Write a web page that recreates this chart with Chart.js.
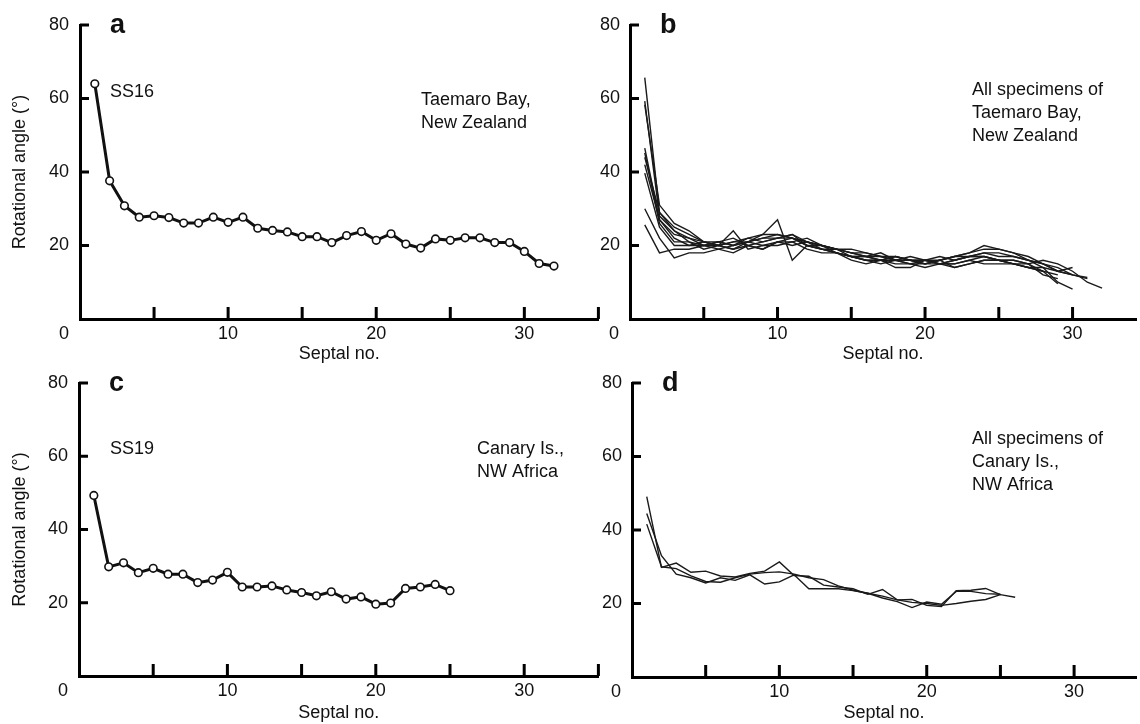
<!DOCTYPE html>
<html>
<head>
<meta charset="utf-8">
<script src="https://cdn.jsdelivr.net/npm/chart.js@4.4.1/dist/chart.umd.min.js"></script>
<style>
  html, body { margin: 0; padding: 0; background: #fff; }
  #page { position: relative; width: 1140px; height: 724px; overflow: hidden; background: #fff; }
  #page canvas { position: absolute; }
</style>
</head>
<body>
<div id="page">
  <canvas id="chart-a" width="604" height="365" style="left:0;top:0"></canvas>
  <canvas id="chart-b" width="540" height="365" style="left:600px;top:0"></canvas>
  <canvas id="chart-c" width="604" height="364" style="left:0;top:360px"></canvas>
  <canvas id="chart-d" width="540" height="364" style="left:600px;top:360px"></canvas>
</div>
<script>
/* ---- data (septal no. starts at 1) ---- */
var ss16Angle = [64, 37.6, 30.8, 27.7, 28.1, 27.6, 26.1, 26.1, 27.7, 26.3, 27.7, 24.7, 24.1, 23.7, 22.4, 22.4,
                 20.8, 22.7, 23.8, 21.4, 23.2, 20.4, 19.3, 21.8, 21.4, 22.1, 22.1, 20.8, 20.8, 18.4, 15.1, 14.4];
var ss19Angle = [49.3, 29.8, 30.9, 28.2, 29.4, 27.8, 27.8, 25.5, 26.2, 28.3, 24.3, 24.3, 24.6, 23.5, 22.8, 21.9,
                 23.0, 21.0, 21.6, 19.6, 19.9, 23.9, 24.3, 25.0, 23.3];

// all specimens, Taemaro Bay
var taemaro1 = [65.7, 29, 25, 23, 21, 20, 21, 22, 23, 23, 22, 21, 20, 19, 18, 17, 17, 16, 16, 15, 16, 17, 18, 19, 19, 18, 17, 15, 13, 12];
var taemaro2 = [59.3, 28, 24, 21, 20, 21, 20, 22, 21, 22, 23, 20, 19, 19, 18, 18, 17, 17, 16, 16, 17, 16, 17, 18, 17, 17, 16, 15, 14, 12, 11];
var taemaro3 = [58.3, 31, 26, 24, 21, 20, 19, 21, 22, 22, 23, 21, 20, 18, 17, 17, 16, 17, 16, 15, 15, 16, 17, 17, 16, 16, 15, 16, 15, 13, 10, 8.4];
var taemaro4 = [46.5, 27, 22, 20, 20, 21, 22, 20, 19, 21, 22, 20, 19, 18, 17, 16, 16, 15, 15, 16, 15, 14, 15, 16, 16, 15, 15, 13, 9.6];
var taemaro5 = [45.2, 26, 21, 21, 19, 20, 21, 21, 20, 20, 21, 19, 18, 18, 17, 16, 16, 17, 16, 16, 15, 15, 16, 17, 16, 15, 14, 13, 12];
var taemaro6 = [42, 27, 23, 22, 21, 21, 20, 21, 22, 23, 22, 21, 20, 19, 19, 18, 17, 16, 16, 15, 16, 17, 18, 20, 19, 18, 16, 15, 13, 12, 11.3];
var taemaro7 = [39.7, 25, 20, 20, 21, 20, 24, 19, 20, 21, 21, 22, 20, 19, 18, 17, 18, 16, 17, 16, 15, 16, 17, 18, 18, 17, 16, 14, 10, 8.1];
var taemaro8 = [30, 22, 16.6, 18, 18, 19, 20, 21, 23, 27, 16, 20, 20, 19, 17, 16, 15, 16, 15, 14, 15, 15, 16, 15, 15, 15, 14, 14, 13, 14];
var taemaro9 = [25.6, 18, 19, 19, 20, 19, 18, 20, 19, 21, 20, 21, 19, 18, 16, 15, 16, 14, 14, 16, 16, 14, 15, 16, 16, 16, 15, 12, 11];
var taemaro10 = [44, 29, 24, 22, 20, 20, 19, 20, 21, 22, 22, 20, 19, 18, 17, 17, 16, 16, 15, 15, 16, 17, 17, 17, 16, 15, 14, 13];

// all specimens, Canary Is.
var canary1 = [49.1, 29.8, 31.0, 28.5, 28.8, 27.5, 27.2, 28.2, 28.8, 31.3, 27.6, 27.4, 25.0, 24.5, 24.0, 22.5,
               23.8, 21.0, 21.1, 19.5, 19.2, 23.5, 23.6, 24.1, 22.4];
var canary2 = [44.5, 33.0, 28.0, 27.0, 25.6, 27.0, 26.3, 27.8, 25.3, 25.9, 27.8, 24.0, 24.0, 24.0, 23.5, 22.8,
               21.5, 20.5, 18.9, 20.4, 19.8, 23.3, 23.3, 22.7, 22.5];
var canary3 = [41.6, 30.0, 29.5, 27.5, 26.0, 25.8, 27.0, 28.0, 28.4, 28.6, 28.0, 27.0, 26.5, 24.8, 23.6, 22.8,
               22.0, 21.0, 20.3, 20.0, 19.5, 20.0, 20.6, 21.1, 22.4, 21.7];

var yTickLabels = [20, 40, 60, 80];
var xTickLabels = [10, 20, 30];

var FONT = '"Liberation Sans", Arial, Helvetica, sans-serif';
var INK = '#111';

function toPoints(arr) {
    return arr.map(function (v, i) { return { x: i + 1, y: v }; });
}

function markedLine(arr) {
    return {
        data: toPoints(arr),
        borderColor: '#111',
        borderWidth: 3,
        pointRadius: 3.8,
        pointBorderWidth: 1.6,
        pointBackgroundColor: '#fff',
        pointBorderColor: '#111',
        tension: 0
    };
}

function plainLine(arr) {
    return {
        data: toPoints(arr),
        borderColor: '#1a1a1a',
        borderWidth: 1.4,
        pointRadius: 0,
        tension: 0
    };
}

// inward tick marks, origin "0", panel letter and notes
var panelDecor = {
    id: 'panelDecor',
    afterDraw: function (chart, args, opts) {
        var ctx = chart.ctx;
        var area = chart.chartArea;
        var xs = chart.scales.x, ys = chart.scales.y;
        ctx.save();
        ctx.strokeStyle = '#000';
        ctx.lineWidth = 3;
        ctx.beginPath();
        xs.ticks.forEach(function (t) {
            if (t.value > 0 && t.value % 5 === 0) {
                var px = xs.getPixelForValue(t.value);
                ctx.moveTo(px, area.bottom);
                ctx.lineTo(px, area.bottom - 12);
            }
        });
        ys.ticks.forEach(function (t) {
            if (t.value > 0) {
                var py = ys.getPixelForValue(t.value);
                ctx.moveTo(area.left, py);
                ctx.lineTo(area.left + 9, py);
            }
        });
        ctx.stroke();

        ctx.fillStyle = INK;
        ctx.font = '18px ' + FONT;
        ctx.textAlign = 'center';
        ctx.textBaseline = 'middle';
        ctx.fillText('0', area.left - 16, area.bottom + 15);

        ctx.textAlign = 'left';
        ctx.textBaseline = 'alphabetic';
        ctx.font = 'bold 27px ' + FONT;
        ctx.fillText(opts.letter, area.left + 30, area.top + 8);

        ctx.font = '18px ' + FONT;
        ctx.textBaseline = 'middle';
        (opts.notes || []).forEach(function (n) {
            n.lines.forEach(function (line, i) {
                ctx.fillText(line, n.x, n.y + i * 23);
            });
        });
        ctx.restore();
    }
};

function makePanel(id, datasets, o) {
    var ctx = document.getElementById(id).getContext('2d');
    return new Chart(ctx, {
        type: 'line',
        data: { datasets: datasets },
        plugins: [panelDecor],
        options: {
            responsive: false,
            animation: false,
            devicePixelRatio: 1,
            layout: { padding: { top: o.top, right: o.right, left: 0, bottom: 0 } },
            plugins: {
                legend: { display: false },
                tooltip: { enabled: false },
                panelDecor: { letter: o.letter, notes: o.notes }
            },
            scales: {
                x: {
                    type: 'linear',
                    min: 0,
                    max: o.xMax,
                    afterFit: function (s) { s.height = o.xHeight; },
                    grid: { display: false, drawTicks: false },
                    border: { display: true, color: '#000', width: 3 },
                    ticks: {
                        stepSize: 5,
                        autoSkip: false,
                        maxRotation: 0,
                        padding: 4,
                        color: INK,
                        font: { family: FONT, size: 18 },
                        callback: function (v) { return xTickLabels.indexOf(v) >= 0 ? String(v) : ''; }
                    },
                    title: {
                        display: true,
                        text: 'Septal no.',
                        color: INK,
                        padding: { top: 0, bottom: 0 },
                        font: { family: FONT, size: 18 }
                    }
                },
                y: {
                    min: 0,
                    max: 80,
                    afterFit: function (s) { s.width = o.yWidth; },
                    grid: { display: false, drawTicks: false },
                    border: { display: true, color: '#000', width: 3 },
                    ticks: {
                        stepSize: 20,
                        padding: o.yPad,
                        color: INK,
                        font: { family: FONT, size: 18 },
                        callback: function (v) { return yTickLabels.indexOf(v) >= 0 ? String(v) : ''; }
                    },
                    title: {
                        display: o.yTitle,
                        text: 'Rotational angle (°)',
                        color: INK,
                        padding: { top: 9, bottom: 0 },
                        font: { family: FONT, size: 18 }
                    }
                }
            }
        }
    });
}

makePanel('chart-a', [markedLine(ss16Angle)], {
    letter: 'a', top: 25, right: 4, xMax: 35, xHeight: 46, yWidth: 80, yPad: 11, yTitle: true,
    notes: [
        { x: 110, y: 92, lines: ['SS16'] },
        { x: 421, y: 100, lines: ['Taemaro Bay,', 'New Zealand'] }
    ]
});

makePanel('chart-b', [taemaro1, taemaro2, taemaro3, taemaro4, taemaro5, taemaro6, taemaro7,
                      taemaro8, taemaro9, taemaro10].map(plainLine), {
    letter: 'b', top: 25, right: 0, xMax: 34.3, xHeight: 46, yWidth: 30, yPad: 10, yTitle: false,
    notes: [
        { x: 372, y: 90, lines: ['All specimens of', 'Taemaro Bay,', 'New Zealand'] }
    ]
});

makePanel('chart-c', [markedLine(ss19Angle)], {
    letter: 'c', top: 23, right: 4, xMax: 35, xHeight: 48, yWidth: 79, yPad: 11, yTitle: true,
    notes: [
        { x: 110, y: 89, lines: ['SS19'] },
        { x: 477, y: 89, lines: ['Canary Is.,', 'NW Africa'] }
    ]
});

makePanel('chart-d', [canary1, canary2, canary3].map(plainLine), {
    letter: 'd', top: 23, right: 0, xMax: 34.2, xHeight: 47, yWidth: 32, yPad: 10, yTitle: false,
    notes: [
        { x: 372, y: 79, lines: ['All specimens of', 'Canary Is.,', 'NW Africa'] }
    ]
});
</script>
</body>
</html>
